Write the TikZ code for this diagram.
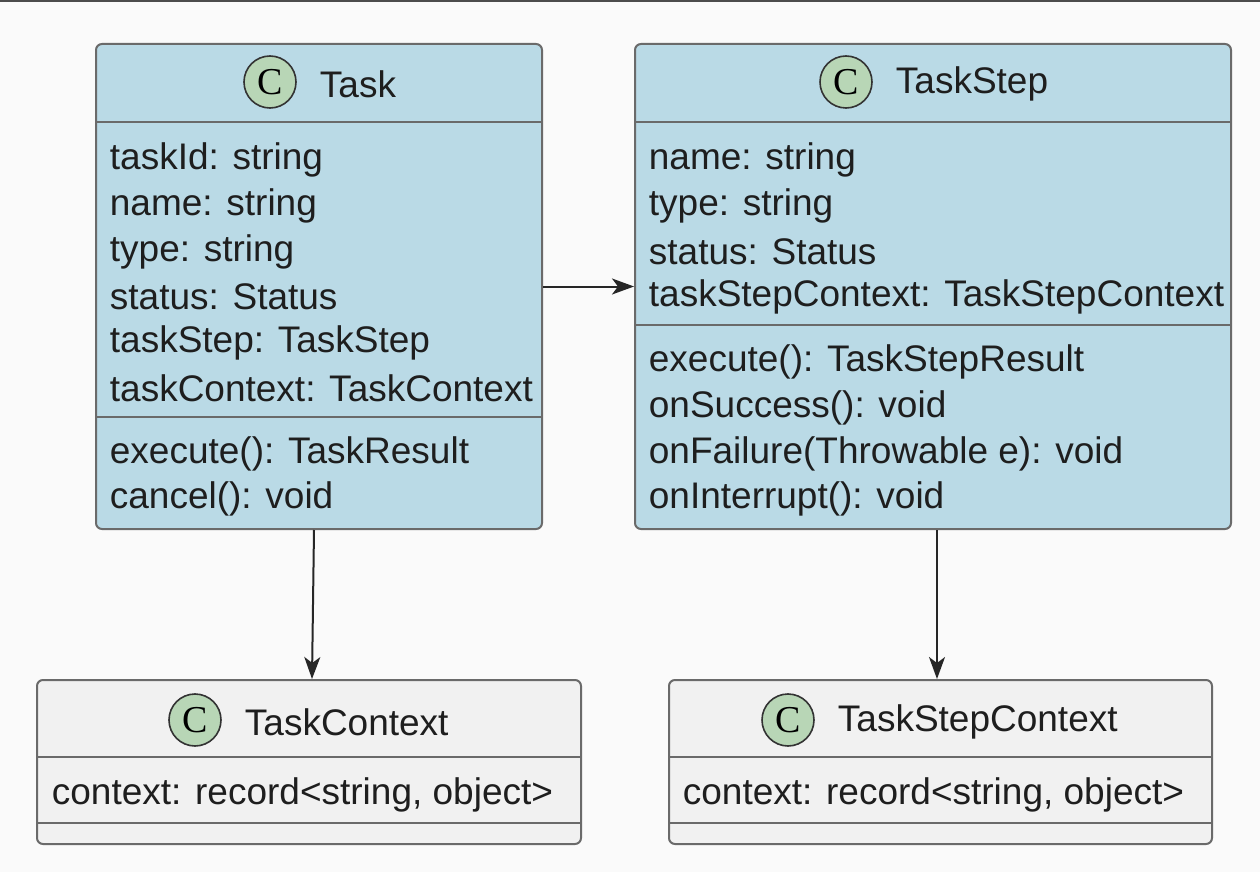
\documentclass[tikz,border=0pt]{standalone}
\usepackage{fontspec}
\setmainfont{Liberation Sans}
\newfontfamily\circfont{Liberation Serif}
\usetikzlibrary{arrows.meta}

\definecolor{taskblue}{HTML}{BADAE6}
\definecolor{ctxgray}{HTML}{F1F1F1}
\definecolor{circgreen}{HTML}{B8D6B6}
\definecolor{boxline}{HTML}{6A6A6A}
\definecolor{textdark}{HTML}{1E1E1E}

\tikzset{
  classbox/.style={draw=boxline, line width=1pt, rounded corners=3pt, anchor=north west, inner sep=0pt},
  divider/.style={draw=boxline, line width=0.8pt},
  member/.style={anchor=west, inner sep=0.75pt, text=textdark, font=\fontsize{18.5}{20}\selectfont},
  ctitle/.style={anchor=west, inner sep=0.75pt, text=textdark, font=\fontsize{18.5}{20}\selectfont},
  cmark/.style={circle, draw=black!80, line width=0.8pt, fill=circgreen, minimum size=26pt, inner sep=0pt, font=\circfont\fontsize{19}{19}\selectfont},
  assoc/.style={draw=black!85, line width=1pt, -{Stealth[length=11pt, width=8pt, inset=3pt]}}
}

\begin{document}
\begin{tikzpicture}[x=0.5pt,y=0.5pt,yscale=-1,xscale=1]
\useasboundingbox (0,0) rectangle (1260,872);
\fill[white!98!black] (0,0) rectangle (1260,872);
\fill[black!70] (0,0) rectangle (1260,2.5);

% Shape: Task
\node (task) [classbox, fill=taskblue, minimum width=223pt, minimum height=242.5pt] at (95,43) {};
\draw [divider] (task.west |- 0,122) -- (task.east |- 0,122);
\draw [divider] (task.west |- 0,417) -- (task.east |- 0,417);
% Text Node
\node (taskc) [cmark] at (270,82) {C};
\node (taskt) [ctitle] at (318,84) {Task};
\node (ta1) [member] at (108,160) {taskId: string};
\node (ta2) [member] at (108,206) {name: string};
\node (ta3) [member] at (108,252) {type: string};
\node (ta4) [member] at (108,297) {status: Status};
\node (ta5) [member] at (108,343) {taskStep: TaskStep};
\node (ta6) [member] at (108,388) {taskContext: TaskContext};
\node (tm1) [member] at (108,454) {execute(): TaskResult};
\node (tm2) [member] at (108,499) {cancel(): void};

% Shape: TaskStep
\node (step) [classbox, fill=taskblue, minimum width=298pt, minimum height=242.5pt] at (634,43) {};
\draw [divider] (step.west |- 0,122) -- (step.east |- 0,122);
\draw [divider] (step.west |- 0,325) -- (step.east |- 0,325);
% Text Node
\node (stepc) [cmark] at (846,82) {C};
\node (stept) [ctitle] at (894,84) {TaskStep};
\node (sa1) [member] at (647,160) {name: string};
\node (sa2) [member] at (647,206) {type: string};
\node (sa3) [member] at (647,252) {status: Status};
\node (sa4) [member] at (647,297) {taskStepContext: TaskStepContext};
\node (sm1) [member] at (647,362) {execute(): TaskStepResult};
\node (sm2) [member] at (647,408) {onSuccess(): void};
\node (sm3) [member] at (647,454) {onFailure(Throwable e): void};
\node (sm4) [member] at (647,499) {onInterrupt(): void};

% Shape: TaskContext
\node (tctx) [classbox, fill=ctxgray, minimum width=272pt, minimum height=82pt] at (36,679) {};
\draw [divider] (tctx.west |- 0,757) -- (tctx.east |- 0,757);
\draw [divider] (tctx.west |- 0,823) -- (tctx.east |- 0,823);
% Text Node
\node (tctxc) [cmark] at (195,720) {C};
\node (tctxt) [ctitle] at (243,722) {TaskContext};
\node (tctxa) [member] at (50,795) {context: record<string, object>};

% Shape: TaskStepContext
\node (sctx) [classbox, fill=ctxgray, minimum width=271.5pt, minimum height=82pt] at (668,679) {};
\draw [divider] (sctx.west |- 0,757) -- (sctx.east |- 0,757);
\draw [divider] (sctx.west |- 0,823) -- (sctx.east |- 0,823);
% Text Node
\node (sctxc) [cmark] at (788,720) {C};
\node (sctxt) [ctitle] at (836,722) {TaskStepContext};
\node (sctxa) [member] at (681,795) {context: record<string, object>};

% Connection
\draw [assoc] (task.east) -- (step.west);
% Connection
\draw [assoc] ([xshift=-2.5pt]task.south) -- ([xshift=1.5pt]tctx.north);
% Connection
\draw [assoc] ([xshift=2pt]step.south) -- ([xshift=-1.75pt]sctx.north);

\end{tikzpicture}
\end{document}
